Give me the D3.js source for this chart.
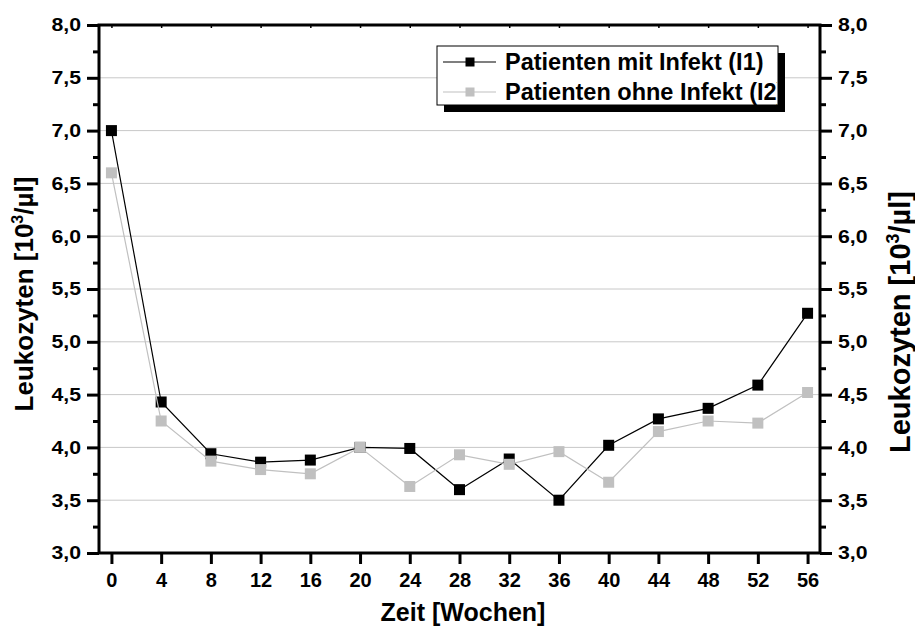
<!DOCTYPE html>
<html>
<head>
<meta charset="utf-8">
<script src="https://cdn.jsdelivr.net/npm/d3@7"></script>
<style>
  html, body { margin: 0; padding: 0; background: #fff; }
  svg { display: block; }
  text { font-family: "Liberation Sans", Arial, sans-serif; font-weight: bold; fill: #000; }
</style>
</head>
<body>
<svg id="chart" width="915" height="633"></svg>
<script>
// ---- data ----
const weeks = [0, 4, 8, 12, 16, 20, 24, 28, 32, 36, 40, 44, 48, 52, 56];
const withInfect = [7.00, 4.43, 3.94, 3.86, 3.88, 4.00, 3.99, 3.60, 3.89, 3.50, 4.02, 4.27, 4.37, 4.59, 5.27];
const withoutInfect = [6.60, 4.25, 3.87, 3.79, 3.75, 4.00, 3.63, 3.93, 3.84, 3.96, 3.67, 4.15, 4.25, 4.23, 4.52];
const yMajorTicks = [3.0, 3.5, 4.0, 4.5, 5.0, 5.5, 6.0, 6.5, 7.0, 7.5, 8.0];
const yMinorTicks = [3.25, 3.75, 4.25, 4.75, 5.25, 5.75, 6.25, 6.75, 7.25, 7.75];
const yGridValues = [3.5, 4.0, 4.5, 5.0, 5.5, 6.0, 6.5, 7.0, 7.5];
const seriesNames = ["Patienten mit Infekt (I1)", "Patienten ohne Infekt (I2)"];
const seriesColors = ["#000000", "#c0c0c0"];
const xTitle = "Zeit [Wochen]";

// ---- layout ----
const svg = d3.select("#chart");
const L = 99, R = 820, T = 25, B = 553;
const x = d3.scaleLinear().domain([-1, 57]).range([L, R]);
const y = d3.scaleLinear().domain([3, 8]).range([B, T]);
const fmt = d => d.toFixed(1).replace(".", ",");

// grid
svg.append("g").selectAll("line").data(yGridValues).join("line")
  .attr("x1", L).attr("x2", R)
  .attr("y1", d => y(d)).attr("y2", d => y(d))
  .attr("stroke", "#c8c8c8").attr("stroke-width", 1);

// series
const series = [withInfect, withoutInfect];
series.forEach((vals, si) => {
  const pts = weeks.map((w, i) => [w, vals[i]]);
  const g = svg.append("g");
  g.append("path")
    .attr("d", d3.line().x(d => x(d[0])).y(d => y(d[1]))(pts))
    .attr("fill", "none").attr("stroke", seriesColors[si]).attr("stroke-width", 1.2);
  g.selectAll("rect").data(pts).join("rect")
    .attr("x", d => x(d[0]) - 5.5).attr("y", d => y(d[1]) - 5.5)
    .attr("width", 11).attr("height", 11)
    .attr("fill", seriesColors[si]);
});

// axes
const yScaleX = 1.15;
function styleAxis(g) {
  g.select(".domain").remove();
  g.selectAll(".tick line").attr("stroke", "#000").attr("stroke-width", 3);
}
const leftAx = svg.append("g").attr("transform", `translate(${L},0)`)
  .call(d3.axisLeft(y).tickValues(yMajorTicks).tickSize(12).tickPadding(6).tickFormat(fmt));
styleAxis(leftAx);
leftAx.selectAll("text").attr("font-size", 18.5)
  .attr("x", -18 / yScaleX).attr("transform", `scale(${yScaleX},1)`);
const leftMinor = svg.append("g").attr("transform", `translate(${L},0)`)
  .call(d3.axisLeft(y).tickValues(yMinorTicks).tickSize(6).tickFormat(""));
styleAxis(leftMinor);

const rightAx = svg.append("g").attr("transform", `translate(${R},0)`)
  .call(d3.axisRight(y).tickValues(yMajorTicks).tickSize(12).tickPadding(6).tickFormat(fmt));
styleAxis(rightAx);
rightAx.selectAll("text").attr("font-size", 18.5)
  .attr("x", 18 / yScaleX).attr("transform", `scale(${yScaleX},1)`);
const rightMinor = svg.append("g").attr("transform", `translate(${R},0)`)
  .call(d3.axisRight(y).tickValues(yMinorTicks).tickSize(6).tickFormat(""));
styleAxis(rightMinor);

const bottomAx = svg.append("g").attr("transform", `translate(0,${B})`)
  .call(d3.axisBottom(x).tickValues(weeks).tickSize(11).tickPadding(9).tickFormat(d3.format("d")));
styleAxis(bottomAx);
bottomAx.selectAll("text").attr("font-size", 20);

const topAx = svg.append("g").attr("transform", `translate(0,${T})`)
  .call(d3.axisBottom(x).tickValues(weeks).tickSize(3).tickFormat(""));
styleAxis(topAx);
topAx.selectAll(".tick line").attr("stroke-width", 1.5);

// frame
svg.append("rect").attr("x", L).attr("y", T).attr("width", R - L).attr("height", B - T)
  .attr("fill", "none").attr("stroke", "#000").attr("stroke-width", 3);

// axis titles
svg.append("text").attr("x", 463).attr("y", 621).attr("text-anchor", "middle")
  .attr("font-size", 25).text(xTitle);

function yTitle(cx, cy, size) {
  const t = svg.append("text")
    .attr("transform", `translate(${cx},${cy}) rotate(-90)`)
    .attr("text-anchor", "middle").attr("font-size", size);
  t.append("tspan").text("Leukozyten [10");
  t.append("tspan").attr("dy", -size * 0.38).attr("font-size", size * 0.62).text("3");
  t.append("tspan").attr("dy", size * 0.38).text("/µl]");
}
yTitle(33, 294, 26);
yTitle(910, 322, 29);

// legend
const lg = svg.append("g");
lg.append("rect").attr("x", 444).attr("y", 53).attr("width", 341).attr("height", 59).attr("fill", "#000");
lg.append("rect").attr("x", 437).attr("y", 46).attr("width", 341).attr("height", 59)
  .attr("fill", "#fff").attr("stroke", "#000").attr("stroke-width", 1);
svg.append("defs").append("clipPath").attr("id", "lgclip")
  .append("rect").attr("x", 437).attr("y", 46).attr("width", 340).attr("height", 59);
const rowsY = [62, 92];
seriesNames.forEach((name, i) => {
  lg.append("line").attr("x1", 443).attr("x2", 496).attr("y1", rowsY[i]).attr("y2", rowsY[i])
    .attr("stroke", seriesColors[i]).attr("stroke-width", 1.2);
  lg.append("rect").attr("x", 470 - 4.5).attr("y", rowsY[i] - 4.5).attr("width", 9).attr("height", 9)
    .attr("fill", seriesColors[i]);
  lg.append("text").attr("x", 505).attr("y", rowsY[i] + 7.5).attr("font-size", 23.5)
    .attr("clip-path", "url(#lgclip)").text(name);
});
</script>
</body>
</html>
